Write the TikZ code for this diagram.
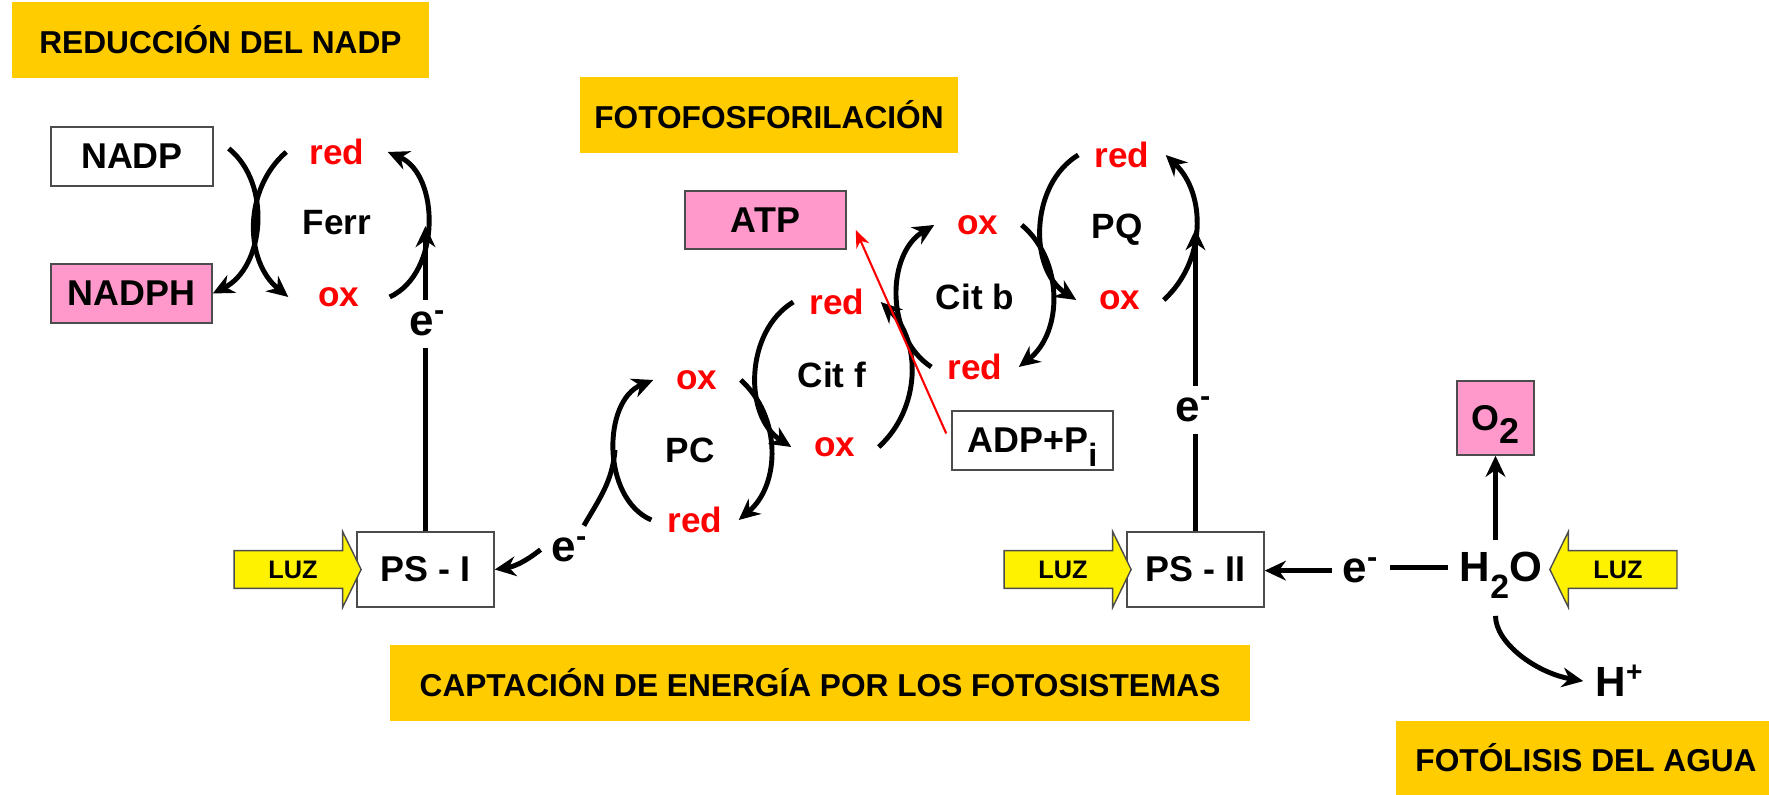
\documentclass[tikz,border=0pt]{standalone}
\usepackage{fontspec}
\setmainfont{Liberation Sans}
\usetikzlibrary{arrows.meta,calc,shapes.arrows}
\definecolor{titleyellow}{HTML}{FFCC00}
\definecolor{nadpink}{HTML}{FF99CC}
\newcommand{\idx}[2][1]{\raisebox{-0.38em}[0pt][0pt]{\scalebox{#1}{#2}}}
\tikzset{
  title/.style={fill=titleyellow, inner sep=0pt, font=\fontsize{9}{11}\selectfont\bfseries},
  box/.style={draw=black!70, line width=0.4pt, inner sep=0pt, font=\fontsize{10.2}{12}\selectfont\bfseries},
  pinkbox/.style={box, fill=nadpink},
  lbl/.style={font=\fontsize{10}{12}\selectfont\bfseries},
  rox/.style={lbl, text=red, inner sep=0pt, minimum width=0.86cm},
  elec/.style={font=\fontsize{12.5}{15}\selectfont\bfseries, inner sep=3pt, anchor=base},
  chem/.style={font=\fontsize{12}{14}\selectfont\bfseries, anchor=base},
  cyc/.style={line width=1.4pt, -{Stealth[length=6pt,width=5.6pt]}},
  wire/.style={line width=1.4pt},
  luz/.style={single arrow, draw=black!70, line width=0.4pt, fill=yellow,
    font=\fontsize{7.2}{8}\selectfont\bfseries, inner xsep=1pt, inner ysep=2.65pt,
    minimum height=1.27cm, single arrow head extend=0.19cm, single arrow tip angle=128},
}
\begin{document}
\begin{tikzpicture}[x=0.01cm, y=0.01cm]
\useasboundingbox (0,0) rectangle (1769,-795);

% titles
\node[title, minimum width=4.17cm, minimum height=0.76cm] (tRed) at (220.5,-40) {REDUCCIÓN DEL NADP};
\node[title, minimum width=3.78cm, minimum height=0.76cm] (tFot) at (769,-115) {FOTOFOSFORILACIÓN};
\node[title, minimum width=8.60cm, minimum height=0.76cm] (tCap) at (820,-683) {CAPTACIÓN DE ENERGÍA POR LOS FOTOSISTEMAS};
\node[title, minimum width=3.80cm, minimum height=0.74cm] (tAgua) at (1586,-758) {FOTÓLISIS DEL AGUA};

% boxes
\node[box, minimum width=1.62cm, minimum height=0.59cm] (nadp) at (132,-156.5) {NADP};
\node[pinkbox, minimum width=1.61cm, minimum height=0.59cm] (nadph) at (131.5,-293.5) {NADPH};
\node[pinkbox, minimum width=1.61cm, minimum height=0.58cm] (atp) at (765.5,-220) {ATP};
\node[box, minimum width=1.61cm, minimum height=0.59cm] (adp) at (1032.5,-440.5) {ADP+P\idx[0.9]{i}};
\node[box, minimum width=1.37cm, minimum height=0.75cm] (psI) at (425.5,-569.5) {PS - I};
\node[box, minimum width=1.37cm, minimum height=0.75cm] (psII) at (1195.5,-569.5) {PS - II};
\node[pinkbox, minimum width=0.77cm, minimum height=0.74cm] (o2) at (1495.5,-418) {O\idx{2}};

% light
\node[luz] (luzI) at (293,-569.5) {LUZ};
\node[luz] (luzII) at (1063,-569.5) {LUZ};
\node[luz, shape border rotate=180] (luzW) at (1618,-569.5) {LUZ};

% Ferr
\node[lbl] (ferr) at (337,-223) {Ferr};
\node[rox, minimum width=1cm] (fRed) at (337,-152) {red};
\node[rox, minimum width=1cm] (fOx) at (339,-297) {ox};
\coordinate (fArc) at (426,-226);
\draw[cyc] ($(nadp.east)+(15,8)$) to[bend left=57] (nadph.east);
\draw[cyc] (fRed.west) to[bend right=50] (fOx.west);
\draw[cyc] (fOx.east) to[bend right=66] (fRed.east);

% PC
\node[lbl] (pc) at (690,-450) {PC};
\node[rox] (pcOx) at (697,-380) {ox};
\node[rox] (pcRed) at (695,-520) {red};
\coordinate (pcArc) at (615,-450);
\draw[cyc] (pcRed.west) to[bend left=67] (pcOx.west);
\draw[cyc] (pcOx.east) to[bend left=49] (pcRed.east);

% Cit f
\node[lbl] (citf) at (832,-375) {Cit f};
\node[rox] (cfRed) at (837,-302) {red};
\node[rox] (cfOx) at (835,-447) {ox};
\draw[cyc] (cfRed.west) to[bend right=58] (cfOx.west);
\draw[cyc] (cfOx.east) to[bend right=47] (cfRed.east);

% Cit b
\node[lbl] (citb) at (975,-297) {Cit b};
\node[rox] (cbOx) at (978,-225) {ox};
\node[rox] (cbRed) at (975,-367) {red};
\draw[cyc] (cbRed.west) to[bend left=58] (cbOx.west);
\draw[cyc] (cbOx.east) to[bend left=51] (cbRed.east);

% PQ
\node[lbl] (pq) at (1117,-230) {PQ};
\node[rox] (pqRed) at (1122,-155) {red};
\node[rox] (pqOx) at (1120,-300) {ox};
\coordinate (pqArc) at (1195,-229);
\draw[cyc] (pqRed.west) to[bend right=58] (pqOx.west);
\draw[cyc] (pqOx.east) to[bend right=47] (pqRed.east);

% electrons
\node[elec] (eI) at (428,-336) {e\textsuperscript{-}};
\draw[wire] (psI.north) -- (psI.north |- eI.south);
\draw[cyc] (psI.north |- eI.north) -- (psI.north |- fArc);

\node[elec] (eII) at (1194,-422) {e\textsuperscript{-}};
\draw[wire] (psII.north) -- (psII.north |- eII.south);
\draw[cyc] (psII.north |- eII.north) -- (psII.north |- pqArc);

\node[elec] (eC) at (570,-562) {e\textsuperscript{-}};
\draw[cyc] (eC.west) to[bend left=15] (psI.east);
\draw[wire] (eC.60) to[out=60,in=-95] (pcArc);

% water
\node[elec] (e2) at (1361,-583) {e\textsuperscript{-}};
\node[chem] (h2o) at (1501,-582) {H\idx[0.8]{2}O};
\node[chem] (hp) at (1620,-697) {H\textsuperscript{+}};
\draw[cyc] (e2.west) -- (e2.west -| psII.east);
\draw[wire] (h2o.west) -- (h2o.west -| e2.east);
\draw[cyc] (h2o.north -| o2) -- (o2.south);
\draw[cyc, shorten <=6pt] (h2o.south -| o2) to[out=-90,in=170] (hp.west);

% ATP
\draw[red, line width=0.6pt, -{Stealth[length=5pt,width=4pt]}] ($(adp.west)+(-5,7)$) -- ($(atp.east)+(9,-10)$);
\end{tikzpicture}
\end{document}
